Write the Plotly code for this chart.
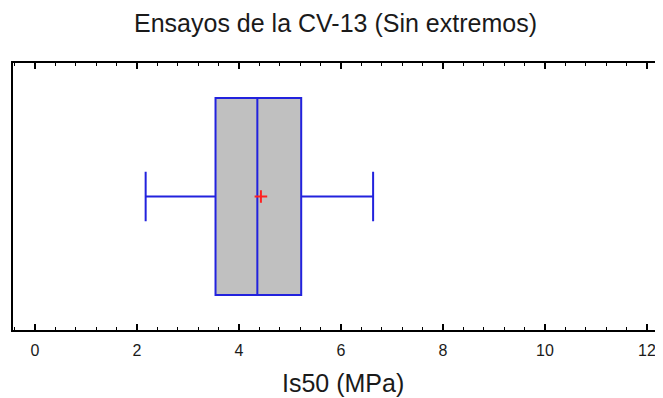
import plotly.graph_objects as go

# Box-plot summary values (Is50, MPa)
q1 = [3.54]
median = [4.36]
q3 = [5.22]
lower_whisker = [2.17]
upper_whisker = [6.63]
mean_val = [4.43]
tick_vals = [0, 2, 4, 6, 8, 10, 12]
tick_text = ["0", "2", "4", "6", "8", "10", "12"]

fig = go.Figure()
fig.add_trace(go.Box(
    y=[0], q1=q1, median=median, q3=q3,
    lowerfence=lower_whisker, upperfence=upper_whisker,
    orientation="h", width=0.738, whiskerwidth=0.25,
    fillcolor="#c0c0c0", line=dict(color="#2222dd", width=2),
    boxpoints=False, showlegend=False, hoverinfo="skip",
))
fig.add_trace(go.Scatter(
    x=mean_val, y=[0], mode="markers",
    marker=dict(symbol="cross-thin", size=9, line=dict(color="#ff2020", width=2)),
    showlegend=False, hoverinfo="skip",
))

fig.update_layout(
    width=655, height=390,
    margin=dict(l=5, r=0, t=55, b=68),
    paper_bgcolor="white", plot_bgcolor="white",
    font=dict(family="Liberation Sans, Arial, sans-serif", color="#1a1a1a"),
    title=dict(text="Ensayos de la CV-13 (Sin extremos)", x=0.5, xanchor="center",
               y=0.962, yanchor="middle", font=dict(size=25, color="#1a1a1a")),
    xaxis=dict(
        range=[-0.431, 12.314], tickvals=tick_vals, ticktext=tick_text,
        ticks="inside", ticklen=6, tickwidth=1.5, tickcolor="black",
        minor=dict(dtick=0.4, tick0=0, ticks="inside", ticklen=3, tickwidth=1, tickcolor="black"),
        showline=True, linecolor="black", linewidth=2, mirror="ticks",
        showgrid=False, zeroline=False, automargin=False,
        tickfont=dict(size=16, color="#1a1a1a"), ticklabelstandoff=5,
    ),
    yaxis=dict(
        range=[-0.5, 0.5], showticklabels=False, ticks="",
        showline=True, linecolor="black", linewidth=2, mirror=False,
        showgrid=False, zeroline=False, automargin=False,
    ),
    annotations=[dict(
        text="Is50 (MPa)", xref="paper", yref="paper", x=0.508, y=-0.2,
        xanchor="center", yanchor="middle", showarrow=False,
        font=dict(size=25, color="#1a1a1a"),
    )],
)

fig.write_html("out.html")
